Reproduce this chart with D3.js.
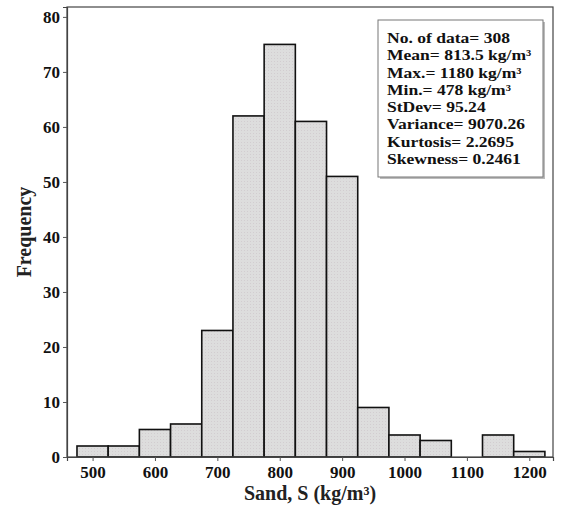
<!DOCTYPE html>
<html>
<head>
<meta charset="utf-8">
<script src="https://cdn.jsdelivr.net/npm/d3@7"></script>
<style>
  body { margin: 0; background: #fff; }
  svg text { font-family: "Liberation Serif", "DejaVu Serif", serif; font-weight: bold; }
</style>
</head>
<body>
<svg id="chart" width="563" height="509"></svg>
<script>
const W = 563, H = 509

// bins of 50 kg/m³, lower edges
const binStarts = [475, 525, 575, 625, 675, 725, 775, 825, 875, 925, 975, 1025, 1075, 1125, 1175]
const counts = [2, 2, 5, 6, 23, 62, 75, 61, 51, 9, 4, 3, 0, 4, 1]
const binWidth = 50
const xTicks = [500, 600, 700, 800, 900, 1000, 1100, 1200]
const yTicks = [0, 10, 20, 30, 40, 50, 60, 70, 80]
const statsLines = [
	"No. of data= 308",
	"Mean= 813.5 kg/m³",
	"Max.= 1180 kg/m³",
	"Min.= 478 kg/m³",
	"StDev= 95.24",
	"Variance= 9070.26",
	"Kurtosis= 2.2695",
	"Skewness= 0.2461"
]

const plot = { left: 67, right: 553, top: 7, bottom: 457 }

const x = d3.scaleLinear().domain([459, 1238]).range([plot.left, plot.right])
const y = d3.scaleLinear().domain([0, 81.8]).range([plot.bottom, plot.top])

const svg = d3.select("#chart")

// pattern to mimic the dotted grey fill
const defs = svg.append("defs")
const pat = defs.append("pattern")
	.attr("id", "dots")
	.attr("width", 3).attr("height", 3)
	.attr("patternUnits", "userSpaceOnUse")
pat.append("rect").attr("width", 3).attr("height", 3).attr("fill", "#dddddd")
pat.append("rect").attr("x", 1).attr("y", 1).attr("width", 1).attr("height", 1).attr("fill", "#d2cdd0")

// bars
svg.append("g")
	.selectAll("rect")
	.data(counts.map((c, i) => ({ x0: binStarts[i], c })))
	.join("rect")
	.filter(d => d.c > 0)
	.attr("x", d => x(d.x0))
	.attr("y", d => y(d.c))
	.attr("width", d => x(d.x0 + binWidth) - x(d.x0))
	.attr("height", d => y(0) - y(d.c))
	.attr("fill", "url(#dots)")
	.attr("stroke", "#111")
	.attr("stroke-width", 1.6)

// frame
svg.append("rect")
	.attr("x", plot.left).attr("y", plot.top)
	.attr("width", plot.right - plot.left).attr("height", plot.bottom - plot.top)
	.attr("fill", "none")
	.attr("stroke", "#444")
	.attr("stroke-width", 1.2)

// axes
const xAxis = svg.append("g")
	.attr("transform", `translate(0,${plot.bottom})`)
	.call(d3.axisBottom(x).tickValues(xTicks).tickSize(4).tickPadding(5).tickFormat(d3.format("d")))
xAxis.select(".domain").attr("stroke", "#444").attr("stroke-width", 1.2)
xAxis.selectAll(".tick line").attr("stroke", "#555")
xAxis.selectAll("text").attr("font-size", 17).attr("fill", "#111")

const yAxis = svg.append("g")
	.attr("transform", `translate(${plot.left},0)`)
	.call(d3.axisLeft(y).tickValues(yTicks).tickSize(4).tickPadding(3))
yAxis.select(".domain").attr("stroke", "#444").attr("stroke-width", 1.2)
yAxis.selectAll(".tick line").attr("stroke", "#555")
yAxis.selectAll("text").attr("font-size", 17).attr("fill", "#111")

// axis titles
svg.append("text")
	.attr("x", (plot.left + plot.right) / 2)
	.attr("y", 500)
	.attr("text-anchor", "middle")
	.attr("font-size", 20)
	.attr("fill", "#222")
	.text("Sand, S (kg/m³)")

svg.append("text")
	.attr("transform", `translate(31,${(plot.top + plot.bottom) / 2}) rotate(-90)`)
	.attr("text-anchor", "middle")
	.attr("font-size", 20)
	.attr("fill", "#222")
	.text("Frequency")

// stats box
const box = { x: 378, y: 20, w: 165, h: 157 }
svg.append("rect")
	.attr("x", box.x + 2).attr("y", box.y + 2)
	.attr("width", box.w).attr("height", box.h)
	.attr("fill", "#bbb")
svg.append("rect")
	.attr("x", box.x).attr("y", box.y)
	.attr("width", box.w).attr("height", box.h)
	.attr("fill", "#fff")
	.attr("stroke", "#777")
	.attr("stroke-width", 1)

// text in the box is wide and short, so stretch it sideways
svg.append("g")
	.attr("transform", `translate(${box.x + 9},0) scale(1.17,1)`)
	.selectAll("text")
	.data(statsLines)
	.join("text")
	.attr("x", 0)
	.attr("y", (d, i) => 43 + i * 17.3)
	.attr("font-size", 15)
	.attr("fill", "#111")
	.text(d => d)
</script>
</body>
</html>
